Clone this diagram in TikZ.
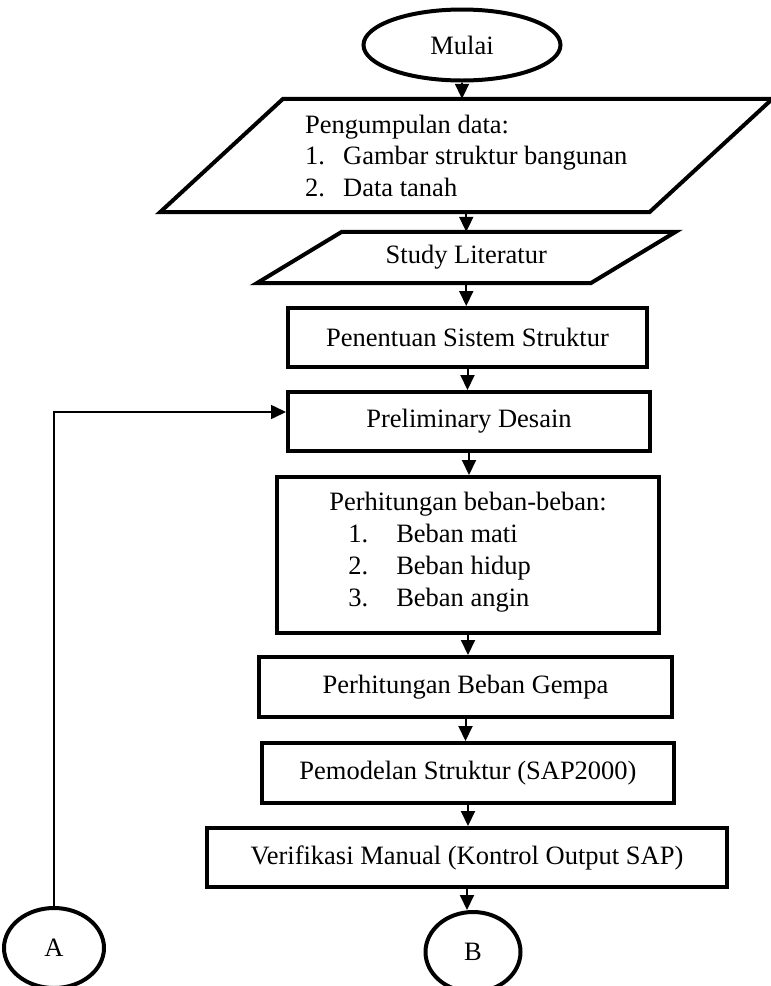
\documentclass[tikz,border=0pt]{standalone}
\usepackage{fontspec}
\setmainfont{Liberation Serif}
\usetikzlibrary{arrows.meta,shapes.geometric}

\begin{document}
\begin{tikzpicture}[x=1pt,y=-1pt,
  every node/.style={font=\fontsize{26.5}{31.5}\selectfont, inner sep=0pt},
  boxline/.style={line width=4pt, line join=miter},
  stepbox/.style={rectangle, draw, boxline, minimum width=#1, minimum height=59pt},
  terminal/.style={ellipse, draw, boxline},
  slanted/.style={rectangle, draw=none},
  flow/.style={line width=2pt, -{Triangle[width=14pt,length=15pt]}},
  back/.style={line width=1.6pt, -{Triangle[width=14pt,length=15pt]}}
]
% page area
\fill[white] (0,0) rectangle (771,986);
\useasboundingbox (0,0) rectangle (771,986);

% steps
\node[terminal, minimum width=197pt, minimum height=71pt] (mulai) at (462,45) {Mulai};
\node[slanted, minimum width=489pt, minimum height=113pt, align=left] (data) at (466.25,155.5)
  {Pengumpulan data:\\\makebox[38pt][l]{1.}Gambar struktur bangunan\\\makebox[38pt][l]{2.}Data tanah};
\node[slanted, minimum width=333.5pt, minimum height=51pt] (lit) at (466.25,257.5) {Study Literatur};
\node[stepbox=359pt] (sistem) at (467.5,337.5) {Penentuan Sistem Struktur};
\node[stepbox=362pt] (prelim) at (469,421.5) {Preliminary Desain};
\node[stepbox=382pt, minimum height=156pt, align=left, font=\fontsize{26.5}{32}\selectfont] (beban) at (468,555)
  {Perhitungan beban-beban:\\
   \hspace*{19pt}\makebox[48pt][l]{1.}Beban mati\\
   \hspace*{19pt}\makebox[48pt][l]{2.}Beban hidup\\
   \hspace*{19pt}\makebox[48pt][l]{3.}Beban angin\\[-20pt]\mbox{}};
\node[stepbox=413pt, minimum height=60pt] (gempa) at (465.5,687) {Perhitungan Beban Gempa};
\node[stepbox=412pt, minimum height=60pt] (model) at (468,773) {Pemodelan Struktur (SAP2000)};
\node[stepbox=520pt] (verif) at (467,857.5) {Verifikasi Manual (Kontrol Output SAP)};
\node[terminal, minimum width=100pt, minimum height=80pt] (A) at (54,948) {A};
\node[terminal, minimum width=95pt, minimum height=80pt] (B) at (473,952) {B};

% data (parallelogram) outlines
\draw[boxline] ([xshift=-61.5pt]data.south west) -- ([xshift=-61.5pt]data.south east)
  -- ([xshift=61.5pt]data.north east) -- ([xshift=61.5pt]data.north west) -- cycle;
\draw[boxline] ([xshift=-42.5pt]lit.south west) -- ([xshift=-42.5pt]lit.south east)
  -- ([xshift=42.5pt]lit.north east) -- ([xshift=42.5pt]lit.north west) -- cycle;

% main flow
\draw[flow] (mulai.south) -- (mulai.south |- data.north);
\draw[flow] (data.south) -- (data.south |- lit.north);
\draw[flow] (lit.south) -- (lit.south |- sistem.north);
\draw[flow] (sistem.south) -- (sistem.south |- prelim.north);
\draw[flow] (prelim.south) -- (prelim.south |- beban.north);
\draw[flow] (beban.south) -- (beban.south |- gempa.north);
\draw[flow] (gempa.south) -- (gempa.south |- model.north);
\draw[flow] (model.south) -- (model.south |- verif.north);
\draw[flow] (verif.south) -- (verif.south |- B.north);

% return path from connector A
\coordinate (entry) at ([yshift=9.5pt]prelim.west);
\draw[back] (A.north) |- (entry);
\end{tikzpicture}
\end{document}
